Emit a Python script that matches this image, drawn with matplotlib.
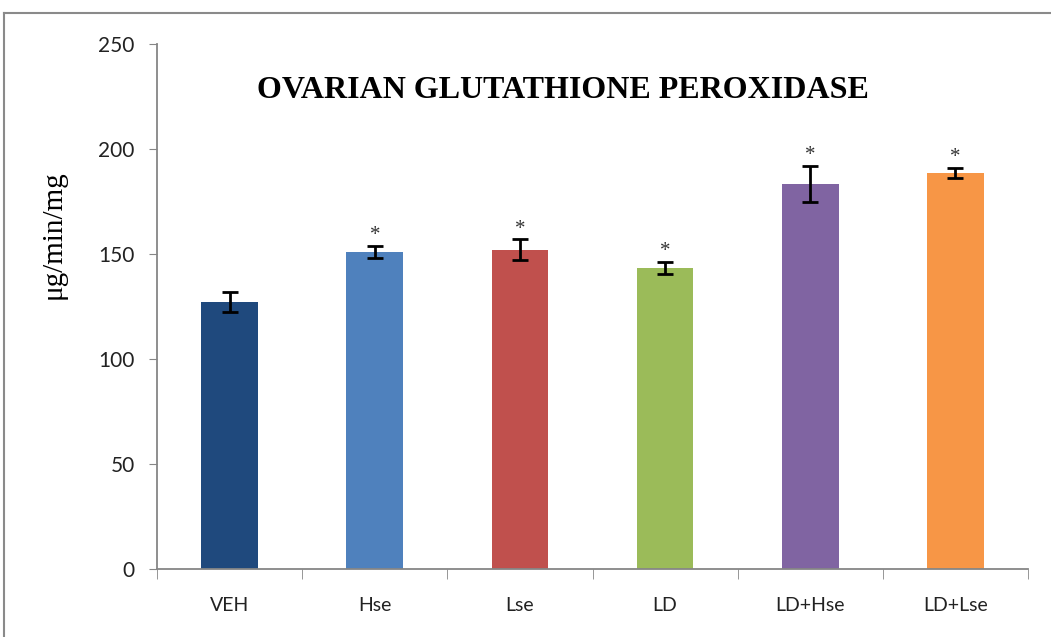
import matplotlib
matplotlib.use("Agg")
import matplotlib.pyplot as plt
from matplotlib.lines import Line2D
import numpy as np

categories = ["VEH", "Hse", "Lse", "LD", "LD+Hse", "LD+Lse"]
values = [127.3, 151, 152, 143.5, 183.5, 188.5]
errors = [4.8, 3.0, 5.0, 2.8, 8.5, 2.5]
significant = [False, True, True, True, True, True]
colors = ["#1f497d", "#4f81bd", "#c0504d", "#9bbb59", "#8064a2", "#f79646"]
yticks = [0, 50, 100, 150, 200, 250]

fig = plt.figure(figsize=(10.51, 6.37), dpi=100)
ax = fig.add_axes([157/1051, 1-569/637, 871/1051, 525/637])

x = np.arange(len(categories))
ax.bar(x, values, width=0.39, color=colors, zorder=2)
ax.errorbar(x, values, yerr=errors, fmt="none", ecolor="black", elinewidth=2,
            capsize=6, capthick=2, zorder=3)
for xi, v, e, s in zip(x, values, errors, significant):
    if s:
        ax.text(xi, v + e + 0.3, "*", ha="center", va="bottom", fontsize=15,
                family="Liberation Serif", color="#333333")

ax.set_xlim(-0.5, len(categories) - 0.5)
ax.set_ylim(0, 250)
ax.set_yticks(yticks)
ax.set_yticklabels([str(t) for t in yticks], fontsize=15, family="Lato", color="#222222")
ax.set_xticks(x)
ax.set_xticklabels(categories, fontsize=14, family="Lato", color="#222222")
ax.tick_params(axis="x", which="major", length=0, pad=20)
ax.set_xticks(np.arange(-0.5, len(categories) + 0.5, 1), minor=True)
ax.tick_params(axis="x", which="minor", length=7, color="#868686", direction="out")
ax.tick_params(axis="y", length=6, color="#868686", pad=10)
for s in ["top", "right"]:
    ax.spines[s].set_visible(False)
for s in ["left", "bottom"]:
    ax.spines[s].set_color("#868686")
    ax.spines[s].set_linewidth(1.3)

fig.text(54/1051, 1-235/637, "μg/min/mg", rotation=90, ha="center", va="center",
         fontsize=21, family="Liberation Serif")
fig.text(563/1051, 1-90/637, "OVARIAN GLUTATHIONE PEROXIDASE", ha="center", va="center",
         fontsize=23, fontweight="bold", family="Liberation Serif")

# outer frame lines
fig.add_artist(Line2D([4/1051, 1], [1-13/637, 1-13/637], color="#8a8a8a", lw=1.5))
fig.add_artist(Line2D([4/1051, 4/1051], [0, 1-13/637], color="#8a8a8a", lw=1.5))

fig.savefig("out.png", dpi=100)
